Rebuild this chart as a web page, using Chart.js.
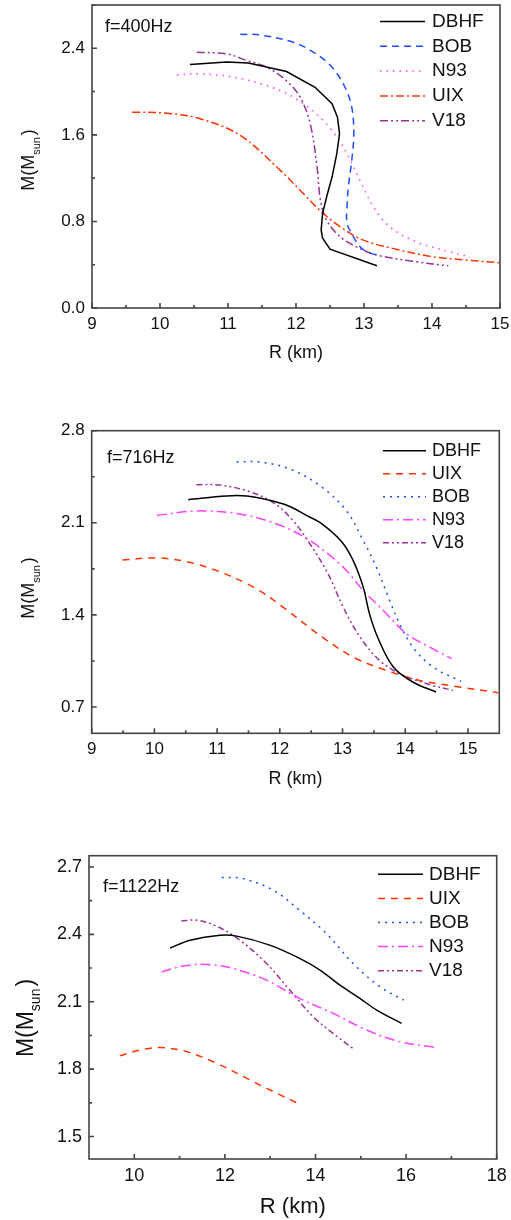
<!DOCTYPE html>
<html>
<head>
<meta charset="utf-8">
<script src="https://cdn.jsdelivr.net/npm/chart.js@4.4.1/dist/chart.umd.min.js"></script>
<style>
  body { margin: 0; background: #fff; }
  canvas { position: absolute; left: 0; }
</style>
</head>
<body>
<canvas id="p1" width="511" height="385" style="top:0"></canvas>
<canvas id="p2" width="511" height="405" style="top:395px"></canvas>
<canvas id="p3" width="511" height="410" style="top:810px"></canvas>
<script>
const FONT = '"Liberation Sans", Arial, sans-serif';

// ---- panel 1: f=400Hz ----
const P1_DBHF_R = [10.44, 10.98, 11.30, 11.86, 12.28, 12.53, 12.61, 12.64, 12.60, 12.53, 12.45, 12.39, 12.37, 12.39, 12.50, 13.19];
const P1_DBHF_M = [2.25, 2.274, 2.265, 2.185, 2.04, 1.887, 1.764, 1.61, 1.426, 1.21, 1.026, 0.873, 0.719, 0.648, 0.544, 0.39];
const P1_BOB_R = [11.18, 11.47, 11.96, 12.26, 12.53, 12.72, 12.82, 12.85, 12.82, 12.77, 12.75, 12.75, 12.82, 12.92, 13.04, 13.19];
const P1_BOB_M = [2.529, 2.523, 2.455, 2.363, 2.225, 2.04, 1.856, 1.61, 1.364, 1.119, 0.934, 0.78, 0.688, 0.581, 0.519, 0.489];
const P1_N93_R = [10.25, 10.59, 11.08, 11.57, 11.96, 12.35, 12.60, 12.80, 12.94, 13.14, 13.38, 13.77, 14.26, 14.56];
const P1_N93_M = [2.154, 2.163, 2.133, 2.056, 1.948, 1.764, 1.58, 1.364, 1.18, 0.934, 0.75, 0.611, 0.519, 0.473];
const P1_UIX_R = [9.59, 10.10, 10.59, 11.18, 11.77, 12.06, 12.35, 12.65, 12.99, 13.53, 14.02, 14.51, 15.0];
const P1_UIX_M = [1.81, 1.80, 1.749, 1.595, 1.272, 1.088, 0.903, 0.75, 0.627, 0.535, 0.473, 0.443, 0.418];
const P1_V18_R = [10.54, 10.98, 11.28, 11.57, 11.86, 12.06, 12.21, 12.31, 12.36, 12.45, 12.65, 12.89, 13.19, 13.77, 14.24];
const P1_V18_M = [2.363, 2.348, 2.286, 2.225, 2.10, 1.948, 1.70, 1.303, 0.996, 0.811, 0.658, 0.565, 0.489, 0.427, 0.39];
const P1_X_TICKS = [9, 10, 11, 12, 13, 14, 15];
const P1_X_MINOR = [9.5, 10.5, 11.5, 12.5, 13.5, 14.5];
const P1_Y_TICKS = [0, 0.8, 1.6, 2.4];
const P1_Y_MINOR = [0.4, 1.2, 2.0, 2.8];

// ---- panel 2: f=716Hz ----
const P2_DBHF_R = [10.54, 11.15, 11.47, 11.79, 12.13, 12.43, 12.66, 12.98, 13.17, 13.33, 13.43, 13.57, 13.81, 14.12, 14.49];
const P2_DBHF_M = [2.276, 2.304, 2.304, 2.276, 2.23, 2.155, 2.096, 1.96, 1.813, 1.611, 1.408, 1.219, 1.004, 0.89, 0.814];
const P2_UIX_R = [9.49, 10.04, 10.51, 10.99, 11.58, 12.05, 12.64, 13.17, 13.70, 14.23, 14.87, 15.48];
const P2_UIX_M = [1.818, 1.833, 1.805, 1.737, 1.611, 1.459, 1.244, 1.079, 0.978, 0.902, 0.852, 0.809];
const P2_BOB_R = [11.31, 11.68, 12.16, 12.64, 13.06, 13.33, 13.54, 13.73, 13.91, 14.12, 14.44, 14.89];
const P2_BOB_M = [2.562, 2.562, 2.509, 2.382, 2.193, 1.965, 1.763, 1.535, 1.332, 1.155, 1.004, 0.895];
const P2_N93_R = [10.04, 10.51, 10.83, 11.36, 11.95, 12.48, 13.01, 13.33, 13.65, 14.02, 14.39, 14.74];
const P2_N93_M = [2.155, 2.185, 2.19, 2.167, 2.091, 1.965, 1.763, 1.585, 1.434, 1.257, 1.155, 1.067];
const P2_V18_R = [10.67, 11.04, 11.47, 11.89, 12.21, 12.48, 12.77, 13.01, 13.28, 13.59, 13.91, 14.34, 14.76];
const P2_V18_M = [2.39, 2.387, 2.344, 2.256, 2.117, 1.94, 1.712, 1.459, 1.231, 1.054, 0.953, 0.877, 0.826];
const P2_X_TICKS = [9, 10, 11, 12, 13, 14, 15];
const P2_X_MINOR = [9.5, 10.5, 11.5, 12.5, 13.5, 14.5];
const P2_Y_TICKS = [0.7, 1.4, 2.1, 2.8];
const P2_Y_MINOR = [1.05, 1.75, 2.45];

// ---- panel 3: f=1122Hz ----
const P3_DBHF_R = [10.79, 11.23, 11.89, 12.26, 12.99, 13.65, 14.10, 14.54, 14.98, 15.35, 15.90];
const P3_DBHF_M = [2.339, 2.374, 2.396, 2.392, 2.352, 2.293, 2.241, 2.174, 2.115, 2.063, 2.004];
const P3_UIX_R = [9.68, 10.13, 10.57, 11.15, 11.82, 12.55, 13.14, 13.58];
const P3_UIX_M = [1.86, 1.885, 1.896, 1.878, 1.826, 1.752, 1.693, 1.651];
const P3_BOB_R = [11.93, 12.40, 13.07, 13.65, 14.24, 14.83, 15.42, 15.95];
const P3_BOB_M = [2.653, 2.648, 2.596, 2.507, 2.404, 2.27, 2.167, 2.107];
const P3_N93_R = [10.60, 11.08, 11.60, 12.18, 12.92, 13.65, 14.39, 15.13, 15.86, 16.63];
const P3_N93_M = [2.233, 2.259, 2.266, 2.248, 2.196, 2.115, 2.048, 1.974, 1.922, 1.897];
const P3_V18_R = [11.04, 11.38, 11.82, 12.33, 12.92, 13.43, 13.95, 14.39, 14.82];
const P3_V18_M = [2.459, 2.463, 2.436, 2.374, 2.27, 2.152, 2.033, 1.959, 1.893];
const P3_X_TICKS = [10, 12, 14, 16, 18];
const P3_X_MINOR = [11, 13, 15, 17];
const P3_Y_TICKS = [1.5, 1.8, 2.1, 2.4, 2.7];
const P3_Y_MINOR = [1.65, 1.95, 2.25, 2.55];

const COLORS = { DBHF: '#000000', BOB: '#1f4cff', N93: '#ff40ff', UIX: '#ff3300', V18: '#993399' };

const series = (label, rs, ms, dash, tension = 0.35) => ({
  label,
  data: rs.map((r, i) => ({ x: r, y: ms[i] })),
  borderColor: COLORS[label],
  backgroundColor: COLORS[label],
  borderDash: dash,
  borderWidth: 1.5,
  showLine: true,
  pointRadius: 0,
  tension
});

const axis = (min, max, major, minor, digits, fontSize, pad, size, horizontal) => ({
  type: 'linear',
  min, max,
  grid: { display: false, drawTicks: false },
  border: { display: false },
  afterBuildTicks: s => {
    s.ticks = major.concat(minor).sort((a, b) => a - b).map(v => ({ value: v }));
  },
  afterFit: s => {
    if (horizontal) s.height = size; else s.width = size;
    s.paddingLeft = s.paddingRight = s.paddingTop = s.paddingBottom = 0;
  },
  ticks: {
    autoSkip: false,
    maxRotation: 0,
    padding: pad,
    color: '#111',
    font: { family: FONT, size: fontSize },
    callback: v => major.some(m => Math.abs(m - v) < 1e-9) ? v.toFixed(digits) : ''
  }
});

// frame, inward ticks, axis titles, legend and note
const decor = {
  id: 'decor',
  afterDatasetsDraw(chart, args, o) {
    const { ctx, chartArea: a } = chart;
    ctx.save();
    ctx.strokeStyle = '#444';
    ctx.lineWidth = 1.6;
    ctx.setLineDash([]);
    ctx.strokeRect(a.left, a.top, a.width, a.height);
    ctx.beginPath();
    const sx = chart.scales.x, sy = chart.scales.y;
    sx.ticks.forEach(t => {
      const p = sx.getPixelForValue(t.value);
      ctx.moveTo(p, a.bottom);
      ctx.lineTo(p, a.bottom - (t.label ? 5 : 3));
    });
    sy.ticks.forEach(t => {
      const p = sy.getPixelForValue(t.value);
      ctx.moveTo(a.left, p);
      ctx.lineTo(a.left + (t.label ? 5 : 3), p);
    });
    ctx.stroke();

    ctx.fillStyle = '#111';
    ctx.textBaseline = 'middle';
    ctx.textAlign = 'center';
    ctx.font = o.titleSize + 'px ' + FONT;
    ctx.fillText('R (km)', (a.left + a.right) / 2, o.xTitleY);

    // y title M(M_sun) with subscript
    ctx.save();
    ctx.translate(o.yTitleX, o.yTitleY);
    ctx.rotate(-Math.PI / 2);
    ctx.textAlign = 'left';
    ctx.textBaseline = 'alphabetic';
    const big = o.ySize + 'px ' + FONT, small = Math.round(o.ySize * 0.62) + 'px ' + FONT;
    ctx.font = big;
    const w1 = ctx.measureText('M(M').width, w3 = ctx.measureText(')').width;
    ctx.font = small;
    const w2 = ctx.measureText('sun').width + 2;
    let x = -(w1 + w2 + w3) / 2;
    const base = o.ySize * 0.36;
    ctx.font = big;
    ctx.fillText('M(M', x, base);
    ctx.font = small;
    ctx.fillText('sun', x + w1, base + o.ySize * 0.3);
    ctx.font = big;
    ctx.fillText(')', x + w1 + w2, base);
    ctx.restore();

    ctx.textAlign = 'left';
    ctx.font = o.noteSize + 'px ' + FONT;
    ctx.fillText(o.note, o.noteX, o.noteY);

    ctx.font = o.legendSize + 'px ' + FONT;
    chart.data.datasets.forEach((ds, i) => {
      const y = o.legendY + i * o.legendStep;
      ctx.strokeStyle = ds.borderColor;
      ctx.lineWidth = ds.borderWidth;
      ctx.setLineDash(ds.borderDash || []);
      ctx.beginPath();
      ctx.moveTo(o.legendX1, y);
      ctx.lineTo(o.legendX2, y);
      ctx.stroke();
      ctx.setLineDash([]);
      ctx.fillText(ds.label, o.legendTextX, y);
    });
    ctx.restore();
  }
};

const makeChart = (id, datasets, xAxis, yAxis, pad, deco) => new Chart(document.getElementById(id), {
  type: 'scatter',
  data: { datasets },
  options: {
    responsive: false,
    animation: false,
    layout: { padding: pad },
    scales: { x: xAxis, y: yAxis },
    plugins: { legend: { display: false }, tooltip: { enabled: false }, decor: deco }
  },
  plugins: [decor]
});

makeChart('p1', [
    series('DBHF', P1_DBHF_R, P1_DBHF_M, [], 0),
    series('BOB', P1_BOB_R, P1_BOB_M, [7, 5]),
    series('N93', P1_N93_R, P1_N93_M, [1.5, 5]),
    series('UIX', P1_UIX_R, P1_UIX_M, [8, 3, 2, 3]),
    series('V18', P1_V18_R, P1_V18_M, [8, 3, 2, 3, 2, 3])
  ],
  axis(9, 15, P1_X_TICKS, P1_X_MINOR, 0, 17, 6, 385 - 308, true),
  axis(0, 2.8, P1_Y_TICKS, P1_Y_MINOR, 1, 17, 7, 92, false),
  { left: 0, right: 11, top: 5, bottom: 0 },
  { titleSize: 18, xTitleY: 353, ySize: 18, yTitleX: 28, yTitleY: 160,
    note: 'f=400Hz', noteSize: 18, noteX: 105, noteY: 27,
    legendSize: 19, legendY: 21.5, legendStep: 24.8, legendX1: 380, legendX2: 425, legendTextX: 432 });

makeChart('p2', [
    series('DBHF', P2_DBHF_R, P2_DBHF_M, []),
    series('UIX', P2_UIX_R, P2_UIX_M, [7, 6]),
    series('BOB', P2_BOB_R, P2_BOB_M, [2, 5]),
    series('N93', P2_N93_R, P2_N93_M, [10, 4, 2, 4]),
    series('V18', P2_V18_R, P2_V18_M, [6, 3, 2, 3, 2, 3])
  ],
  axis(9, 15.5, P2_X_TICKS, P2_X_MINOR, 0, 17, 6, 405 - 338.3, true),
  axis(0.5, 2.8, P2_Y_TICKS, P2_Y_MINOR, 1, 17, 7, 91.7, false),
  { left: 0, right: 11.7, top: 35.7, bottom: 0 },
  { titleSize: 18, xTitleY: 384, ySize: 18, yTitleX: 28, yTitleY: 193,
    note: 'f=716Hz', noteSize: 18, noteX: 107, noteY: 62.7,
    legendSize: 18, legendY: 55.7, legendStep: 23, legendX1: 383, legendX2: 426, legendTextX: 432 });

makeChart('p3', [
    series('DBHF', P3_DBHF_R, P3_DBHF_M, []),
    series('UIX', P3_UIX_R, P3_UIX_M, [7, 6]),
    series('BOB', P3_BOB_R, P3_BOB_M, [2, 5]),
    series('N93', P3_N93_R, P3_N93_M, [10, 4, 2, 4]),
    series('V18', P3_V18_R, P3_V18_M, [6, 3, 2, 3, 2, 3])
  ],
  axis(9, 18, P3_X_TICKS, P3_X_MINOR, 0, 18, 6, 410 - 349, true),
  axis(1.4, 2.75, P3_Y_TICKS, P3_Y_MINOR, 1, 18, 7, 89, false),
  { left: 0, right: 14.3, top: 45.7, bottom: 0 },
  { titleSize: 22, xTitleY: 396.7, ySize: 23, yTitleX: 25, yTitleY: 208,
    note: 'f=1122Hz', noteSize: 18, noteX: 103, noteY: 77.3,
    legendSize: 19, legendY: 64.3, legendStep: 24.1, legendX1: 378, legendX2: 423, legendTextX: 429 });
</script>
</body>
</html>
